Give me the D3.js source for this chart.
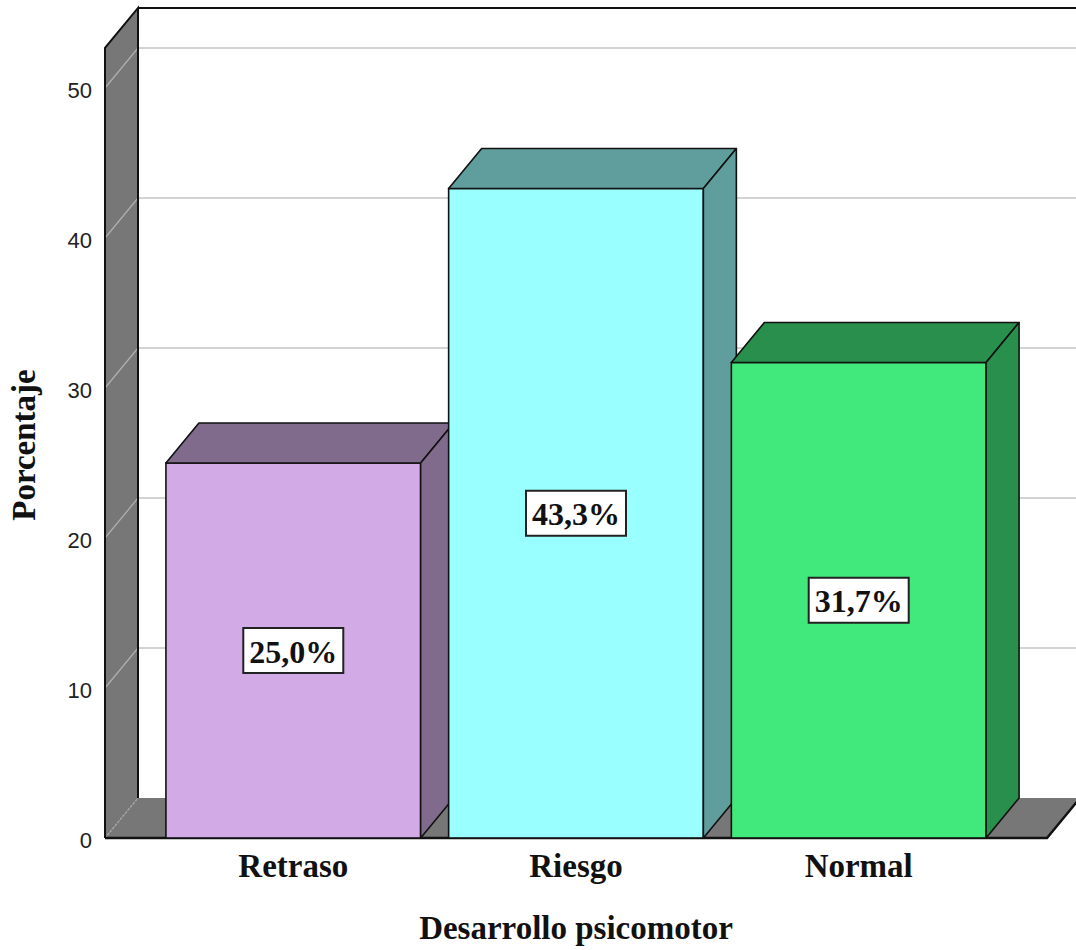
<!DOCTYPE html>
<html>
<head>
<meta charset="utf-8">
<script src="https://cdn.jsdelivr.net/npm/d3@7"></script>
<style>
  html, body { margin: 0; padding: 0; background: #fff; }
  svg { display: block; }
</style>
</head>
<body>
<script>
// Desarrollo psicomotor: percentage per category
const categories = ["Retraso", "Riesgo", "Normal"];
const percentages = [25.0, 43.3, 31.7];
const valueLabels = ["25,0%", "43,3%", "31,7%"];
const yTicks = [0, 10, 20, 30, 40, 50];
const frontColors = ["#d2aae6", "#99ffff", "#41e87b"];
const shadeColors = ["#806b8c", "#5f9e9c", "#288f4d"];

const W = 1076, H = 950;
const DX = 33, DY = -40;          // depth offset of the 3D frame
const wallValue = 52.67;          // height of the side wall in axis units
const serif = "'Liberation Serif', 'Times New Roman', serif";

const svg = d3.select("body").append("svg")
  .attr("width", W).attr("height", H);

const y = d3.scaleLinear().domain([0, 50]).range([838, 88]);
const x = d3.scaleBand().domain(categories)
  .range([105, 1047]).paddingInner(0.099).paddingOuter(0.2155);

const y0 = y(0);
const yTop = y(wallValue);
const xL = x.range()[0], xR = x.range()[1];
const pts = a => a.map(p => p.join(",")).join(" ");

// back wall
svg.append("rect")
  .attr("x", xL + DX).attr("y", yTop + DY)
  .attr("width", W - xL - DX + 10).attr("height", y0 - yTop)
  .attr("fill", "#fff");

// back wall gridlines
svg.append("g").selectAll("line")
  .data(yTicks.filter(d => d > 0))
  .join("line")
  .attr("x1", xL + DX).attr("x2", W + 10)
  .attr("y1", d => y(d) + DY).attr("y2", d => y(d) + DY)
  .attr("stroke", "#c4c4c4").attr("stroke-width", 1.5);

// top edge of the back wall
svg.append("line")
  .attr("x1", xL + DX).attr("x2", W + 10)
  .attr("y1", yTop + DY).attr("y2", yTop + DY)
  .attr("stroke", "#111").attr("stroke-width", 2);

// left side wall
svg.append("polygon")
  .attr("points", pts([[xL, y0], [xL, yTop], [xL + DX, yTop + DY], [xL + DX, y0 + DY]]))
  .attr("fill", "#777");

// floor
svg.append("polygon")
  .attr("points", pts([[xL, y0], [xR, y0], [xR + DX, y0 + DY], [xL + DX, y0 + DY]]))
  .attr("fill", "#777");

// side wall gridlines
svg.append("g").selectAll("line")
  .data(yTicks)
  .join("line")
  .attr("x1", xL).attr("x2", xL + DX)
  .attr("y1", d => y(d)).attr("y2", d => y(d) + DY)
  .attr("stroke", "#b0b0b0").attr("stroke-width", 1.2)
  .attr("stroke-dasharray", d => d === 0 ? "2,2" : null);

// frame edges
svg.append("polyline")
  .attr("points", pts([[xL, y0], [xL, yTop], [xL + DX, yTop + DY], [xL + DX, y0 + DY]]))
  .attr("fill", "none").attr("stroke", "#111").attr("stroke-width", 2);
svg.append("polyline")
  .attr("points", pts([[xL, y0], [xR, y0], [xR + DX, y0 + DY]]))
  .attr("fill", "none").attr("stroke", "#111").attr("stroke-width", 2.5);

// y axis tick labels
svg.append("g").selectAll("text")
  .data(yTicks)
  .join("text")
  .attr("x", 92).attr("y", d => y(d) + 2)
  .attr("text-anchor", "end").attr("dominant-baseline", "central")
  .attr("font-family", "'Liberation Sans', Arial, sans-serif")
  .attr("font-size", 22).attr("fill", "#222")
  .text(d => d);

// bars
const bw = x.bandwidth();
const bars = svg.append("g").selectAll("g")
  .data(categories.map((c, i) => ({ c, v: percentages[i], i })))
  .join("g");

bars.append("rect")
  .attr("x", d => x(d.c)).attr("y", d => y(d.v))
  .attr("width", bw).attr("height", d => y0 - y(d.v))
  .attr("fill", d => frontColors[d.i])
  .attr("stroke", "#111").attr("stroke-width", 1.6);

bars.append("polygon")
  .attr("points", d => {
    const x0 = x(d.c), yv = y(d.v);
    return pts([[x0, yv], [x0 + DX, yv + DY], [x0 + bw + DX, yv + DY], [x0 + bw, yv]]);
  })
  .attr("fill", d => shadeColors[d.i])
  .attr("stroke", "#111").attr("stroke-width", 1.6).attr("stroke-linejoin", "round");

bars.append("polygon")
  .attr("points", d => {
    const x1 = x(d.c) + bw, yv = y(d.v);
    return pts([[x1, yv], [x1 + DX, yv + DY], [x1 + DX, y0 + DY], [x1, y0]]);
  })
  .attr("fill", d => shadeColors[d.i])
  .attr("stroke", "#111").attr("stroke-width", 1.6).attr("stroke-linejoin", "round");

// value labels in boxes at mid-height of each bar
bars.each(function (d) {
  const g = d3.select(this);
  const cx = x(d.c) + bw / 2, cy = y(d.v / 2);
  const box = g.append("rect");
  const t = g.append("text")
    .attr("x", cx).attr("y", cy + 1)
    .attr("text-anchor", "middle").attr("dominant-baseline", "central")
    .attr("font-family", serif)
    .attr("font-weight", "bold").attr("font-size", 32).attr("fill", "#111")
    .text(valueLabels[d.i]);
  const b = t.node().getBBox();
  const padX = 6, h = 45;
  box.attr("x", b.x - padX).attr("y", cy - h / 2)
    .attr("width", b.width + 2 * padX).attr("height", h)
    .attr("fill", "#fff").attr("stroke", "#222").attr("stroke-width", 2);
});

// category labels
svg.append("g").selectAll("text")
  .data(categories)
  .join("text")
  .attr("x", d => x(d) + bw / 2).attr("y", 877)
  .attr("text-anchor", "middle")
  .attr("font-family", serif)
  .attr("font-weight", "bold").attr("font-size", 33).attr("fill", "#111")
  .text(d => d);

// axis titles
svg.append("text")
  .attr("x", (xL + xR) / 2).attr("y", 939)
  .attr("text-anchor", "middle")
  .attr("font-family", serif)
  .attr("font-weight", "bold").attr("font-size", 33).attr("fill", "#111")
  .text("Desarrollo psicomotor");

svg.append("text")
  .attr("transform", "translate(35,445) rotate(-90)")
  .attr("text-anchor", "middle")
  .attr("font-family", serif)
  .attr("font-weight", "bold").attr("font-size", 33).attr("fill", "#111")
  .text("Porcentaje");
</script>
</body>
</html>
